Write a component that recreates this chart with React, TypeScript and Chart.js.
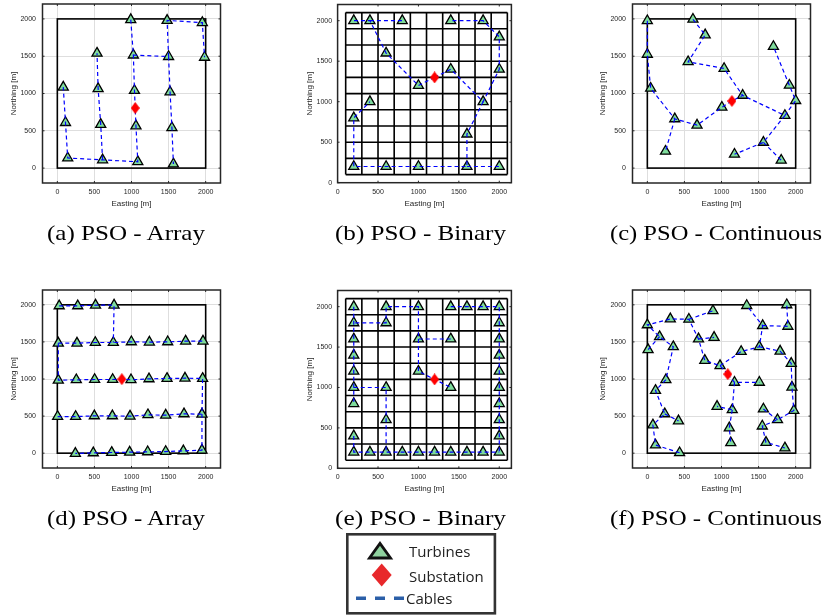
import React, { useEffect, useRef } from 'react';
import { Chart, registerables } from 'chart.js';

Chart.register(...registerables);

// ---------- shared axis values ----------
const AXIS_TICKS = [0, 500, 1000, 1500, 2000];
const FIELD_EDGE = [0, 2000];
const BINARY_LINES = [100, 300, 500, 700, 900, 1100, 1300, 1500, 1700, 1900, 2100];
const SUB = -1; // index used in cable paths for the substation

// ---------- (a) PSO - Array ----------
const aTurbX = [990, 1480, 1955, 1985, 1500, 1025, 535, 80, 550, 1040, 1520, 110, 585, 1060, 1545, 140, 610, 1085, 1565];
const aTurbY = [1990, 1980, 1950, 1485, 1495, 1515, 1540, 1085, 1065, 1040, 1020, 610, 585, 565, 540, 135, 110, 85, 55];
const aSubstation = [1050, 805];
const aCables = [
  [0, 5, 9, SUB, 13, 17, 16, 15, 11, 7],
  [5, 4, 1, 2, 3],
  [4, 10, 14, 18],
  [16, 12, 8, 6],
];

// ---------- (b) PSO - Binary ----------
const bTurbX = [200, 400, 800, 1400, 1800, 2000, 2000, 600, 1000, 1400, 1800, 400, 200, 1600, 200, 600, 1000, 1600, 2000];
const bTurbY = [2000, 2000, 2000, 2000, 2000, 1800, 1400, 1600, 1200, 1400, 1000, 1000, 800, 600, 200, 200, 200, 200, 200];
const bSubstation = [1200, 1300];
const bCables = [
  [SUB, 8, 7, 1, 0],
  [1, 2],
  [SUB, 9, 10, 6, 5, 4, 3],
  [10, 13, 17, 16, 15, 14, 12, 11],
  [17, 18],
];

// ---------- (c) PSO - Continuous ----------
const cTurbX = [0, 0, 45, 615, 780, 550, 1035, 1285, 1005, 370, 670, 245, 1700, 1915, 2000, 1855, 1565, 1175, 1805];
const cTurbY = [1975, 1525, 1070, 1995, 1785, 1425, 1335, 975, 815, 660, 575, 225, 1630, 1110, 905, 705, 345, 185, 105];
const cSubstation = [1140, 900];
const cCables = [
  [0, 1, 2, 9, 10, 8, SUB, 7, 15, 14, 13, 12],
  [9, 11],
  [3, 4, 5, 6, 7],
  [15, 16, 17],
  [16, 18],
];

// ---------- (d) PSO - Array ----------
const dTurbX = [25, 275, 515, 765, 13, 265, 512, 755, 998, 1241, 1488, 1730, 1964, 13, 256, 503, 746, 993, 1236, 1479, 1721, 1959, 4, 247, 499, 742, 980, 1222, 1461, 1708, 1950, 243, 485, 733, 975, 1218, 1461, 1699, 1950];
const dTurbY = [1986, 1986, 1995, 1995, 1483, 1483, 1492, 1492, 1501, 1497, 1501, 1510, 1510, 984, 989, 993, 993, 989, 1002, 1007, 1011, 1007, 494, 494, 503, 503, 499, 517, 512, 530, 526, -4, 4, 9, 13, 18, 22, 31, 40];
const dSubstation = [870, 998];
const dCables = [
  [0, 1, 2, 3, 7],
  [4, 5, 6, 7, 8, 9, 10, 11, 12],
  [4, 13, 14, 15, 16, SUB, 17, 18, 19, 20, 21, 30, 38, 37, 36, 35, 34, 33, 32, 31],
  [22, 23, 24, 25, 26, 27, 28, 29, 30],
];

// ---------- (e) PSO - Binary ----------
const eTurbX = [200, 600, 1000, 1400, 1600, 1800, 2000, 200, 600, 2000, 200, 1000, 1400, 2000, 200, 2000, 200, 1000, 2000, 200, 600, 1400, 2000, 200, 2000, 600, 2000, 200, 2000, 200, 400, 600, 800, 1000, 1200, 1400, 1600, 1800, 2000];
const eTurbY = [2000, 2000, 2000, 2000, 2000, 2000, 2000, 1800, 1800, 1800, 1600, 1600, 1600, 1600, 1400, 1400, 1200, 1200, 1200, 1000, 1000, 1000, 1000, 800, 800, 600, 600, 400, 400, 200, 200, 200, 200, 200, 200, 200, 200, 200, 200];
const eSubstation = [1200, 1100];
const eCables = [
  [12, 11, 2, 1, 8, 7],
  [0, 7, 10, 14, 16, 19, 23],
  [19, 20, 25, 31],
  [11, 17, SUB, 21],
  [3, 4, 5, 6, 9, 13, 15, 18, 22, 24, 26, 28, 38],
  [27, 29, 30, 31, 32, 33, 34, 35, 36, 37, 38],
];

// ---------- (f) PSO - Continuous ----------
const fTurbX = [1340, 1880, 885, 310, 560, 0, 165, 350, 10, 690, 900, 1555, 1895, 1510, 1265, 1790, 775, 980, 1940, 1175, 1510, 250, 110, 1950, 940, 1145, 1565, 1975, 235, 420, 75, 1755, 1550, 1105, 110, 435, 1125, 1600, 1855];
const fTurbY = [1990, 2000, 1920, 1810, 1805, 1730, 1570, 1435, 1395, 1540, 1560, 1720, 1710, 1435, 1370, 1375, 1250, 1180, 1210, 955, 955, 990, 845, 890, 630, 585, 595, 575, 530, 435, 380, 450, 365, 340, 110, 5, 140, 145, 70];
const fSubstation = [1085, 1065];
const fCables = [
  [SUB, 17, 16, 9, 4, 3, 5, 6, 7, 21, 22, 28, 30, 34, 35],
  [9, 10],
  [4, 2],
  [8, 6],
  [28, 29],
  [17, 14, 13, 11, 0],
  [11, 12, 1],
  [13, 15, 18, 23, 27, 31, 32, 37, 38],
  [26, 31],
  [SUB, 19, 20],
  [19, 25, 24],
  [25, 33, 36],
];

// ---------- captions ----------
const CAPTIONS = ['(a) PSO - Array', '(b) PSO - Binary', '(c) PSO - Continuous', '(d) PSO - Array', '(e) PSO - Binary', '(f) PSO - Continuous'];
const LEGEND_LABELS = ['Turbines', 'Substation', 'Cables'];

type PanelDef = {
  turbX: number[];
  turbY: number[];
  sub: number[];
  cables: number[][];
  binary: boolean;
  xRange: number[];
  yRange: number[];
  left: number;
  top: number;
  w: number;
  h: number;
  L: number;
  T: number;
  R: number;
  B: number;
  northPad: number;
  eastPad: number;
  yTickPad: number;
};

const FULL = [-200, 2200];
const BIN_X = [0, 2150];
const BIN_Y = [0, 2200];

const PANELS: PanelDef[] = [
  { turbX: aTurbX, turbY: aTurbY, sub: aSubstation, cables: aCables, binary: false, xRange: FULL, yRange: FULL, left: 0, top: 0, w: 224, h: 215, L: 42.5, T: 4, R: 220.5, B: 183, northPad: 8.5, eastPad: 6, yTickPad: 6.5 },
  { turbX: bTurbX, turbY: bTurbY, sub: bSubstation, cables: bCables, binary: true, xRange: BIN_X, yRange: BIN_Y, left: 296, top: 0, w: 220, h: 215, L: 337.6, T: 4.5, R: 511.4, B: 182.7, northPad: 8.5, eastPad: 6, yTickPad: 5.5 },
  { turbX: cTurbX, turbY: cTurbY, sub: cSubstation, cables: cCables, binary: false, xRange: FULL, yRange: FULL, left: 590, top: 0, w: 232, h: 215, L: 632.5, T: 4, R: 810.5, B: 183, northPad: 8, eastPad: 6, yTickPad: 6.5 },
  { turbX: dTurbX, turbY: dTurbY, sub: dSubstation, cables: dCables, binary: false, xRange: FULL, yRange: FULL, left: 0, top: 286, w: 224, h: 215, L: 42.5, T: 290, R: 220.5, B: 468, northPad: 8.5, eastPad: 7, yTickPad: 6.5 },
  { turbX: eTurbX, turbY: eTurbY, sub: eSubstation, cables: eCables, binary: true, xRange: BIN_X, yRange: BIN_Y, left: 296, top: 286, w: 220, h: 215, L: 337.6, T: 290.5, R: 511.4, B: 468.3, northPad: 8.5, eastPad: 7, yTickPad: 5.5 },
  { turbX: fTurbX, turbY: fTurbY, sub: fSubstation, cables: fCables, binary: false, xRange: FULL, yRange: FULL, left: 590, top: 286, w: 232, h: 215, L: 632.5, T: 290, R: 810.5, B: 468, northPad: 8, eastPad: 7, yTickPad: 6.5 },
];

function makeDiamond(): HTMLCanvasElement {
  const c = document.createElement('canvas');
  c.width = 9;
  c.height = 12;
  const g = c.getContext('2d')!;
  g.fillStyle = '#ff0000';
  g.beginPath();
  g.moveTo(4.5, 0);
  g.lineTo(9, 6);
  g.lineTo(4.5, 12);
  g.lineTo(0, 6);
  g.closePath();
  g.fill();
  return c;
}

function decorPlugin(p: PanelDef) {
  return {
    id: 'panelDecor',
    beforeDatasetsDraw(chart: any) {
      const { ctx, scales } = chart;
      const xs = scales.x;
      const ys = scales.y;
      ctx.save();
      ctx.strokeStyle = '#000';
      ctx.lineWidth = 1.6;
      if (p.binary) {
        const lo = BINARY_LINES[0];
        const hi = BINARY_LINES[BINARY_LINES.length - 1];
        ctx.beginPath();
        for (const v of BINARY_LINES) {
          const px = xs.getPixelForValue(v);
          ctx.moveTo(px, ys.getPixelForValue(lo));
          ctx.lineTo(px, ys.getPixelForValue(hi));
          const py = ys.getPixelForValue(v);
          ctx.moveTo(xs.getPixelForValue(lo), py);
          ctx.lineTo(xs.getPixelForValue(hi), py);
        }
        ctx.stroke();
      } else {
        const x0 = xs.getPixelForValue(FIELD_EDGE[0]);
        const x1 = xs.getPixelForValue(FIELD_EDGE[1]);
        const y0 = ys.getPixelForValue(FIELD_EDGE[0]);
        const y1 = ys.getPixelForValue(FIELD_EDGE[1]);
        ctx.strokeRect(x0, y1, x1 - x0, y0 - y1);
      }
      ctx.restore();
    },
    afterDraw(chart: any) {
      const { ctx, chartArea: a, scales } = chart;
      const xs = scales.x;
      const ys = scales.y;
      ctx.save();
      ctx.strokeStyle = '#262626';
      ctx.lineWidth = 1;
      ctx.beginPath();
      for (const v of AXIS_TICKS) {
        const px = xs.getPixelForValue(v);
        ctx.moveTo(px, a.bottom);
        ctx.lineTo(px, a.bottom - 2);
        ctx.moveTo(px, a.top);
        ctx.lineTo(px, a.top + 2);
        const py = ys.getPixelForValue(v);
        ctx.moveTo(a.left, py);
        ctx.lineTo(a.left + 2, py);
        ctx.moveTo(a.right, py);
        ctx.lineTo(a.right - 2, py);
      }
      ctx.stroke();
      ctx.lineWidth = 1.5;
      ctx.strokeRect(a.left, a.top, a.right - a.left, a.bottom - a.top);
      ctx.restore();
    },
  };
}

function makeConfig(p: PanelDef, diamond: HTMLCanvasElement): any {
  const pt = (i: number) => (i === SUB ? { x: p.sub[0], y: p.sub[1] } : { x: p.turbX[i], y: p.turbY[i] });
  const cableSets = p.cables.map((path) => ({
    data: path.map(pt),
    showLine: true,
    borderColor: '#0000ff',
    backgroundColor: '#0000ff',
    borderWidth: 1.2,
    borderDash: [4, 3],
    pointRadius: 0,
    pointHoverRadius: 0,
    fill: false,
    order: 0,
  }));
  const turbines = {
    data: p.turbX.map((_, i) => pt(i)),
    pointStyle: 'triangle',
    pointRadius: 5.8,
    pointHoverRadius: 5.8,
    backgroundColor: '#7fdc9c',
    borderColor: '#000000',
    borderWidth: 1.3,
    showLine: false,
    order: 1,
  };
  const substation = {
    data: [pt(SUB)],
    pointStyle: diamond,
    pointRadius: 5,
    showLine: false,
    order: -1,
  };
  const family = "'Liberation Sans', Arial, sans-serif";
  const setTicks = (s: any) => {
    s.ticks = AXIS_TICKS.map((v) => ({ value: v }));
  };
  const grid = p.binary
    ? { display: false, drawTicks: false }
    : { display: true, color: '#dedede', lineWidth: 1, drawTicks: false };
  return {
    type: 'scatter',
    data: { datasets: [...cableSets, turbines, substation] },
    options: {
      responsive: false,
      animation: false,
      devicePixelRatio: 1,
      events: [],
      layout: {
        autoPadding: false,
        padding: { left: 0, top: p.T - p.top, right: p.left + p.w - p.R, bottom: 0 },
      },
      plugins: { legend: { display: false }, tooltip: { enabled: false } },
      scales: {
        x: {
          type: 'linear',
          min: p.xRange[0],
          max: p.xRange[1],
          afterBuildTicks: setTicks,
          afterFit: (s: any) => {
            s.height = p.top + p.h - p.B;
            s.paddingLeft = 0;
            s.paddingRight = 0;
          },
          ticks: { font: { family, size: 7 }, color: '#262626', padding: 5, maxRotation: 0, autoSkip: false, callback: (v: any) => String(v) },
          grid,
          border: { display: false },
          title: { display: true, text: 'Easting [m]', font: { family, size: 8 }, color: '#262626', padding: { top: 0, bottom: p.eastPad } },
        },
        y: {
          type: 'linear',
          min: p.yRange[0],
          max: p.yRange[1],
          afterBuildTicks: setTicks,
          afterFit: (s: any) => {
            s.width = p.L - p.left;
            s.paddingTop = 0;
            s.paddingBottom = 0;
          },
          ticks: { font: { family, size: 7 }, color: '#262626', padding: p.yTickPad, autoSkip: false, callback: (v: any) => String(v) },
          grid,
          border: { display: false },
          title: { display: true, text: 'Northing [m]', font: { family, size: 8 }, color: '#262626', padding: { top: p.northPad, bottom: 0 } },
        },
      },
    },
    plugins: [decorPlugin(p)],
  };
}

function Panel({ def }: { def: PanelDef }) {
  const ref = useRef<HTMLCanvasElement>(null);
  useEffect(() => {
    const chart = new Chart(ref.current as HTMLCanvasElement, makeConfig(def, makeDiamond()));
    return () => chart.destroy();
  }, [def]);
  return (
    <canvas
      ref={ref}
      width={def.w}
      height={def.h}
      style={{ position: 'absolute', left: def.left, top: def.top, width: def.w, height: def.h }}
    />
  );
}

const CAPTION_POS = [
  { x: 47, y: 240, len: 158 },
  { x: 335, y: 240, len: 171 },
  { x: 610, y: 240, len: 212 },
  { x: 47, y: 525, len: 158 },
  { x: 335, y: 525, len: 171 },
  { x: 610, y: 525, len: 212 },
];

export default function App() {
  return (
    <div style={{ position: 'absolute', left: 0, top: 0, width: 822, height: 615, overflow: 'hidden', background: '#ffffff' }}>
      {PANELS.map((p, i) => (
        <Panel key={i} def={p} />
      ))}
      <svg width={822} height={615} style={{ position: 'absolute', left: 0, top: 0, pointerEvents: 'none' }}>
        {CAPTIONS.map((c, i) => (
          <text
            key={i}
            x={CAPTION_POS[i].x}
            y={CAPTION_POS[i].y}
            fontFamily="'Liberation Serif', 'Times New Roman', serif"
            fontSize={21}
            fill="#000"
            textLength={CAPTION_POS[i].len}
            lengthAdjust="spacingAndGlyphs"
          >
            {c}
          </text>
        ))}
        <rect x={347.3} y={534.3} width={147.6} height={79} fill="#ffffff" stroke="#333333" strokeWidth={2.6} />
        <polygon points="369.5,558 390.5,558 380,543.5" fill="#8fd19e" stroke="#111111" strokeWidth={2.8} strokeLinejoin="miter" />
        <polygon points="381.7,563.5 391.7,575 381.7,586.5 371.7,575" fill="#e8282b" />
        <line x1={356} y1={598.3} x2={404} y2={598.3} stroke="#2b5fa8" strokeWidth={3.5} strokeDasharray="10 9" />
        <text x={409} y={557.3} fontFamily="'Open Sans', sans-serif" fontSize={15} fill="#222">{LEGEND_LABELS[0]}</text>
        <text x={409} y={581.7} fontFamily="'Open Sans', sans-serif" fontSize={15} fill="#222">{LEGEND_LABELS[1]}</text>
        <text x={406} y={604} fontFamily="'Open Sans', sans-serif" fontSize={15} fill="#222">{LEGEND_LABELS[2]}</text>
      </svg>
    </div>
  );
}
